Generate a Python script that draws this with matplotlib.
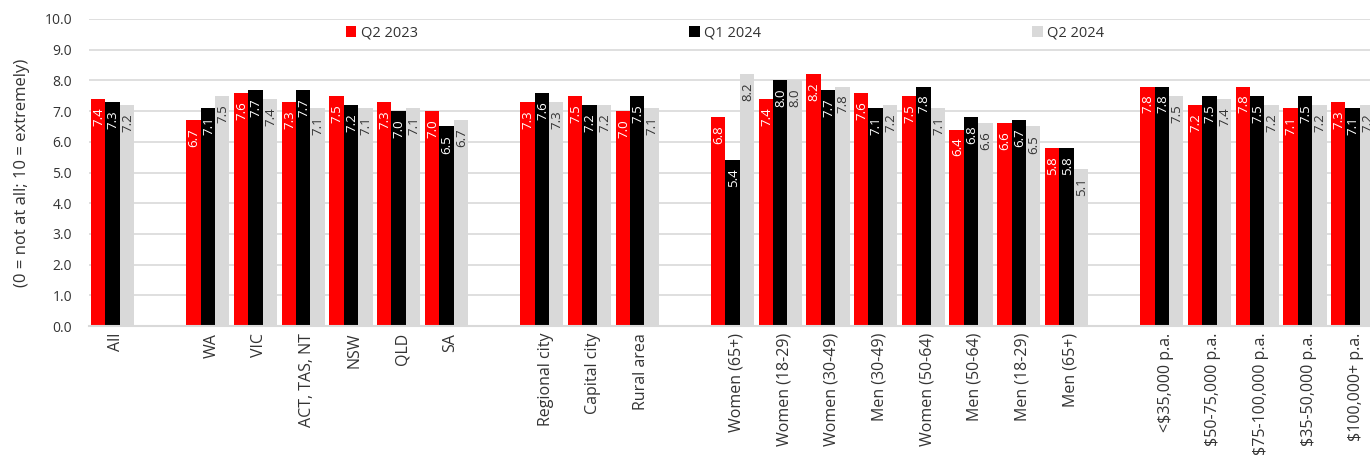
import matplotlib
matplotlib.use("Agg")
import matplotlib.pyplot as plt
import numpy as np

plt.rcParams["font.family"] = ["Open Sans", "DejaVu Sans"]

# ── Data ──────────────────────────────────────────────────────────────────────
groups = [
    ["All"],
    ["WA", "VIC", "ACT, TAS, NT", "NSW", "QLD", "SA"],
    ["Regional city", "Capital city", "Rural area"],
    ["Women (65+)", "Women (18-29)", "Women (30-49)", "Men (30-49)",
     "Women (50-64)", "Men (50-64)", "Men (18-29)", "Men (65+)"],
    ["<\\$35,000 p.a.", "\\$50-75,000 p.a.", "\\$75-100,000 p.a.",
     "\\$35-50,000 p.a.", "\\$100,000+ p.a."],
]
series = ["Q2 2023", "Q1 2024", "Q2 2024"]
q2_2023 = [7.4,
           6.7, 7.6, 7.3, 7.5, 7.3, 7.0,
           7.3, 7.5, 7.0,
           6.8, 7.4, 8.2, 7.6, 7.5, 6.4, 6.6, 5.8,
           7.8, 7.2, 7.8, 7.1, 7.3]
q1_2024 = [7.3,
           7.1, 7.7, 7.7, 7.2, 7.0, 6.5,
           7.6, 7.2, 7.5,
           5.4, 8.0, 7.7, 7.1, 7.8, 6.8, 6.7, 5.8,
           7.8, 7.5, 7.5, 7.5, 7.1]
q2_2024 = [7.2,
           7.5, 7.4, 7.1, 7.1, 7.1, 6.7,
           7.3, 7.2, 7.1,
           8.2, 8.0, 7.8, 7.2, 7.1, 6.6, 6.5, 5.1,
           7.5, 7.4, 7.2, 7.2, 7.2]

# ── Style ─────────────────────────────────────────────────────────────────────
COLORS = ["#ff0000", "#000000", "#d9d9d9"]
LABEL_COLORS = ["white", "white", "#333333"]
GRID = "#d9d9d9"
TEXT = "#333333"

# one empty slot between each block of categories
labels, pos = [], []
slot = 0
for g in groups:
    for name in g:
        labels.append(name)
        pos.append(slot)
        slot += 1
    slot += 1
pos = np.array(pos, dtype=float)
n_slots = slot - 1

# ── Plot ──────────────────────────────────────────────────────────────────────
W, H = 1370, 459
fig = plt.figure(figsize=(W / 100, H / 100), dpi=100, facecolor="white")
slot_px = 47.7
ax = fig.add_axes([88.6 / W, 133 / H, n_slots * slot_px / W, 307 / H])

bw = 0.302
handles = []
for i, (vals, name) in enumerate(zip([q2_2023, q1_2024, q2_2024], series)):
    xs = pos + (i - 1) * bw
    b = ax.bar(xs, vals, width=bw, color=COLORS[i], label=name, zorder=2)
    handles.append(b)
    for x, v in zip(xs, vals):
        ax.annotate(f"{v:.1f}", (x, v), xytext=(0.5, -6), textcoords="offset points",
                    rotation=90, ha="center", va="top", fontsize=9.5,
                    color=LABEL_COLORS[i], zorder=3)

ax.set_xlim(-0.5, n_slots - 0.5)
ax.set_ylim(0, 10)
ax.set_yticks(np.arange(0, 10.01, 1.0))
ax.set_yticklabels([f"{t:.1f}" for t in np.arange(0, 10.01, 1.0)])
ax.set_xticks(pos + 0.08)
ax.set_xticklabels(labels, rotation=90, va="top", ha="center")
ax.tick_params(axis="both", length=0, colors=TEXT)
ax.tick_params(axis="y", pad=12, labelsize=10)
ax.tick_params(axis="x", pad=5, labelsize=11.5)
ax.set_ylabel("(0 = not at all; 10 = extremely)", fontsize=12, color=TEXT, labelpad=10)

ax.grid(axis="y", color=GRID, lw=1.2, zorder=0)
ax.set_axisbelow(True)
for sp in ["top", "right", "left"]:
    ax.spines[sp].set_visible(False)
ax.spines["bottom"].set_color(GRID)
ax.spines["bottom"].set_linewidth(1.5)

ax.legend(handles=handles, ncol=3, loc="center",
          bbox_to_anchor=(725 / W, 1 - 33 / H), bbox_transform=fig.transFigure,
          frameon=False, fontsize=10.5, handlelength=0.72, handleheight=0.72,
          handletextpad=0.3, columnspacing=18.6, labelcolor=TEXT)

fig.savefig("out.png", dpi=100, facecolor="white")
